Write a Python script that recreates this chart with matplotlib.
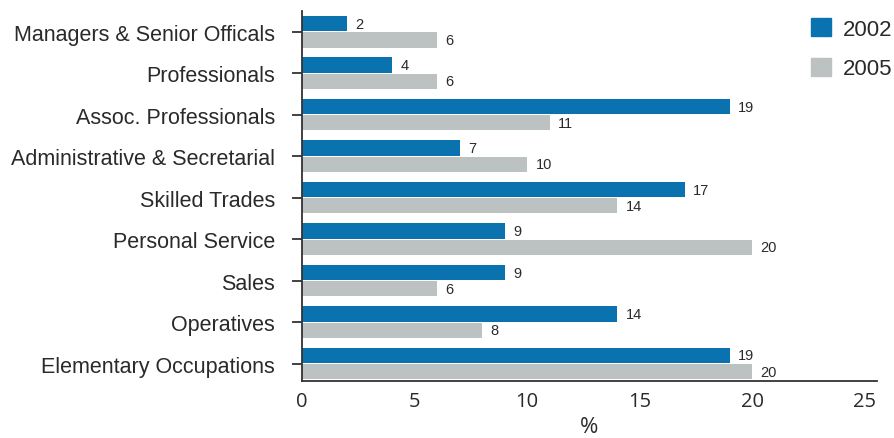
import matplotlib
matplotlib.use("Agg")
import matplotlib.pyplot as plt
import numpy as np
from matplotlib.patches import Patch

categories = [
    "Managers & Senior Officals",
    "Professionals",
    "Assoc. Professionals",
    "Administrative & Secretarial",
    "Skilled Trades",
    "Personal Service",
    "Sales",
    "Operatives",
    "Elementary Occupations",
]
values_2002 = [2, 4, 19, 7, 17, 9, 9, 14, 19]
values_2005 = [6, 6, 11, 10, 14, 20, 6, 8, 20]
series_labels = ["2002", "2005"]
x_ticks = [0, 5, 10, 15, 20, 25]

blue = "#0b72b0"
grey = "#bcc1c1"
text_col = "#2a2a2a"

plt.rcParams["font.family"] = ["Liberation Sans", "DejaVu Sans"]

fig = plt.figure(figsize=(8.94, 4.39), dpi=100)
ax = fig.add_axes([302 / 894, 1 - 382 / 439, (877 - 302) / 894, (382 - 12) / 439])

y = np.arange(len(categories))
h = 0.37
b1 = ax.barh(y - h / 2 - 0.01, values_2002, height=h, color=blue)
b2 = ax.barh(y + h / 2 + 0.01, values_2005, height=h, color=grey)

for bars, vals in ((b1, values_2002), (b2, values_2005)):
    for bar, v in zip(bars, vals):
        ax.annotate(str(v), (v, bar.get_y() + bar.get_height() / 2),
                    xytext=(6, 0), textcoords="offset points",
                    va="center", ha="left", fontsize=10.5, color=text_col)

ax.set_ylim(len(categories) - 1 + 0.42, -0.5)
ax.set_xlim(0, 25.55)
ax.set_yticks(y)
ax.set_yticklabels(categories, fontsize=15.5, color=text_col)
ax.set_xticks(x_ticks)
ax.set_xticklabels([str(t) for t in x_ticks], fontsize=14.5, color=text_col,
                   family=["Open Sans", "DejaVu Sans"])
ax.tick_params(axis="y", length=7, width=1.3, color="#333333", pad=12.5)
ax.tick_params(axis="x", length=0, pad=7)
ax.set_xlabel("%", fontsize=16, color=text_col, labelpad=4,
              family=["Open Sans", "DejaVu Sans"])

for s in ("top", "right"):
    ax.spines[s].set_visible(False)
for s in ("left", "bottom"):
    ax.spines[s].set_color("#333333")
    ax.spines[s].set_linewidth(1.3)

handles = [Patch(color=blue), Patch(color=grey)]
fig.legend(handles, series_labels, loc="upper left",
           bbox_to_anchor=(802 / 894, 1 - 10 / 439), frameon=False,
           fontsize=16, handlelength=0.9, handleheight=0.9,
           handletextpad=0.55, labelspacing=0.8, borderaxespad=0,
           labelcolor=text_col)

fig.savefig("out.png", dpi=100)
